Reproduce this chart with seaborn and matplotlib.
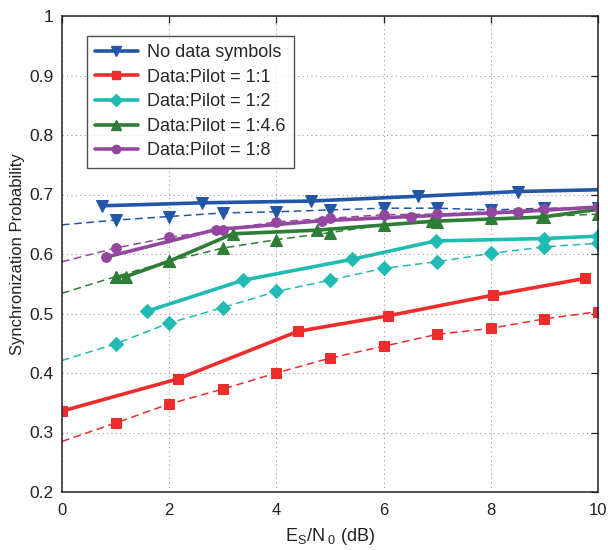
import matplotlib
matplotlib.use("Agg")
import matplotlib.pyplot as plt
import seaborn as sns
import numpy as np
from matplotlib.lines import Line2D
from matplotlib.ticker import FuncFormatter

sns.set_theme(style="white")
plt.rcParams['font.family'] = ['Liberation Sans', 'DejaVu Sans']
plt.rcParams['mathtext.fontset'] = 'custom'
plt.rcParams['mathtext.rm'] = 'Liberation Sans'
plt.rcParams['mathtext.it'] = 'Liberation Sans'
plt.rcParams['mathtext.default'] = 'regular'

# ---- data ----
labels = ["No data symbols", "Data:Pilot = 1:1", "Data:Pilot = 1:2",
          "Data:Pilot = 1:4.6", "Data:Pilot = 1:8"]

# simulated (solid) curves
blue_x = [0.74, 2.61, 4.64, 6.64, 8.51, 10.0]
blue_y = [0.681, 0.686, 0.689, 0.697, 0.705, 0.708]
red_x = [0.0, 2.16, 4.40, 6.08, 8.05, 9.76]
red_y = [0.336, 0.390, 0.470, 0.496, 0.531, 0.559]
cyan_x = [1.59, 3.38, 5.41, 6.97, 9.0, 10.0]
cyan_y = [0.504, 0.556, 0.591, 0.622, 0.626, 0.630]
green_x = [1.0, 1.19, 2.0, 3.19, 4.75, 6.9, 8.95, 10.0]
green_y = [0.562, 0.562, 0.588, 0.634, 0.640, 0.655, 0.662, 0.675]
purple_x = [0.83, 2.87, 4.86, 6.52, 8.51, 10.0]
purple_y = [0.595, 0.641, 0.656, 0.663, 0.671, 0.679]

# analytical (dashed) curves
snr = [0, 1, 2, 3, 4, 5, 6, 7, 8, 9, 10]
blue_d = [0.649, 0.657, 0.663, 0.669, 0.671, 0.674, 0.677, 0.677, 0.674, 0.677, 0.677]
red_d = [0.285, 0.316, 0.348, 0.373, 0.400, 0.425, 0.445, 0.465, 0.475, 0.491, 0.503]
cyan_d = [0.421, 0.449, 0.484, 0.510, 0.537, 0.556, 0.576, 0.587, 0.601, 0.612, 0.618]
green_d = [0.534, 0.562, 0.588, 0.610, 0.624, 0.636, 0.649, 0.654, 0.660, 0.663, 0.667]
purple_d = [0.587, 0.610, 0.628, 0.641, 0.654, 0.660, 0.666, 0.667, 0.671, 0.675, 0.679]

colors = ['#2356A6', '#EE2C2C', '#20BBB3', '#2E7D36', '#94479F']
markers = ['v', 's', 'D', '^', 'o']

solid = [(blue_x, blue_y, [0, 1, 2, 3, 4]),
         (red_x, red_y, [0, 1, 2, 3, 4, 5]),
         (cyan_x, cyan_y, [0, 1, 2, 3, 4, 5]),
         (green_x, green_y, [0, 1, 2, 3, 4, 5, 6]),
         (purple_x, purple_y, [0, 1, 2, 3, 4, 5])]
dashed = [blue_d, red_d, cyan_d, green_d, purple_d]
msizes = [8, 7, 7, 8, 7]

fig = plt.figure(figsize=(6.08, 5.5), dpi=100)
ax = fig.add_axes([62/608, 58/550, 536/608, 476/550])

for i in range(5):
    yd = dashed[i]
    sns.lineplot(x=snr, y=yd, ax=ax, color=colors[i], lw=1.1, linestyle=(0, (5, 3)),
                 marker=markers[i], markersize=msizes[i], markevery=list(range(1, 11)),
                 markeredgecolor=colors[i], markerfacecolor=colors[i], sort=False)
for i in range(5):
    xs, ys, me = solid[i]
    sns.lineplot(x=xs, y=ys, ax=ax, color=colors[i], lw=2.6,
                 marker=markers[i], markersize=msizes[i], markevery=me,
                 markeredgecolor=colors[i], markerfacecolor=colors[i], sort=False)

ax.set_xlim(0, 10)
ax.set_ylim(0.2, 1.0)
ax.set_xticks([0, 2, 4, 6, 8, 10])
ax.set_yticks(np.round(np.arange(0.2, 1.01, 0.1), 1))
ax.yaxis.set_major_formatter(FuncFormatter(lambda v, p: '%g' % v))
ax.grid(True, linestyle=(0, (1, 3)), color='#999999', lw=0.8)
ax.tick_params(direction='in', length=5, width=0.9, top=True, right=True,
               labelsize=12.5, colors='#222222', pad=6)
ax.tick_params(axis='x', labelsize=12, pad=8)
for s in ax.spines.values():
    s.set_color('#222222')
    s.set_linewidth(1.1)

ax.set_ylabel('Synchronization Probability', fontsize=12, color='#222222', labelpad=3)
ax.set_xlabel(r'$E_S/N_{\ 0}$ (dB)', fontsize=13, color='#222222', labelpad=6)

handles = [Line2D([], [], color=colors[i], lw=2.6, marker=markers[i],
                  markersize=msizes[i] - 1, markerfacecolor=colors[i]) for i in range(5)]
leg = ax.legend(handles, labels, loc='upper left', bbox_to_anchor=(0.046, 0.958),
                fontsize=13, frameon=True, fancybox=False, handlelength=2.4,
                borderpad=0.45, labelspacing=0.42, handletextpad=0.5, borderaxespad=0)
leg.get_frame().set_edgecolor('#222222')
leg.get_frame().set_linewidth(1.0)

fig.savefig('out.png', dpi=100)
